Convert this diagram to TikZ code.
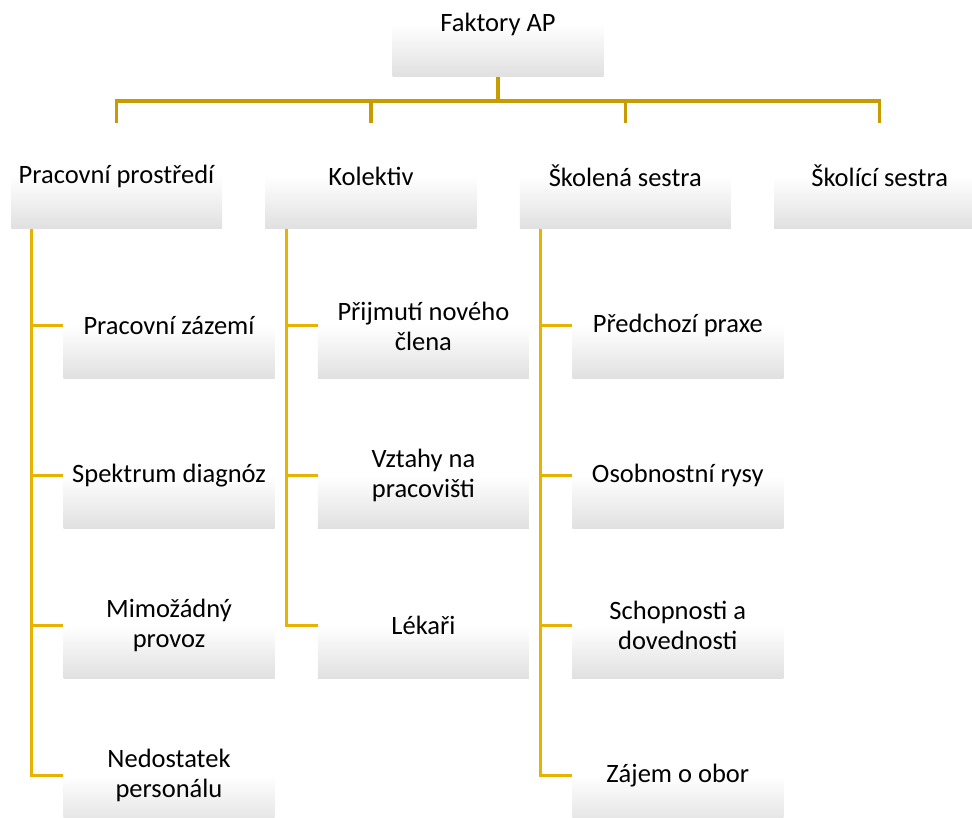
\documentclass[tikz,border=0pt]{standalone}
\usepackage{fontspec}
\setmainfont{Carlito}
\usetikzlibrary{positioning}
\definecolor{busgold}{RGB}{200,155,0}
\definecolor{branchgold}{RGB}{232,178,0}
\definecolor{boxgray}{RGB}{224,224,224}

\begin{document}
\begin{tikzpicture}[
  x=1pt, y=1pt,
  node distance=43.5pt and 43pt,
  box/.style={rectangle, minimum width=211pt, minimum height=106pt, inner sep=2pt, align=center,
    top color=white, bottom color=boxgray, middle color=white,
    font=\fontsize{26.5}{30}\selectfont},
  busline/.style={draw=busgold, line width=3.5pt},
  branchline/.style={draw=branchgold, line width=3pt}
]
\clip (0,0) rectangle (972,-818);
% top level
\node[box] (root) at (498,-24) {Faktory AP};
\node[box] (pp) at (116.5,-176) {Pracovní prostředí};
\node[box, right=of pp] (ko) {Kolektiv};
\node[box, right=of ko] (sk) {Školená sestra};
\node[box, right=of sk] (sn) {Školící sestra};
% Pracovní prostředí
\node[box, below=of pp, xshift=52.5pt] (pp1) {Pracovní zázemí};
\node[box, below=of pp1] (pp2) {Spektrum diagnóz};
\node[box, below=of pp2] (pp3) {Mimožádný\\provoz};
\node[box, below=of pp3] (pp4) {Nedostatek\\personálu};
% Kolektiv
\node[box, below=of ko, xshift=52.5pt] (ko1) {Přijmutí nového\\člena};
\node[box, below=of ko1] (ko2) {Vztahy na\\pracovišti};
\node[box, below=of ko2] (ko3) {Lékaři};
% Školená sestra
\node[box, below=of sk, xshift=52.5pt] (sk1) {Předchozí praxe};
\node[box, below=of sk1] (sk2) {Osobnostní rysy};
\node[box, below=of sk2] (sk3) {Schopnosti a\\dovednosti};
\node[box, below=of sk3] (sk4) {Zájem o obor};
% connectors
\coordinate (hub) at (498,-101);
\draw[busline] (root.south) -- (hub);
\draw[busline] (pp.north) |- (sn.north |- hub) -- (sn.north);
\foreach \n in {ko,sk}
  \draw[busline] (\n.north) -- (\n.north |- hub);
\coordinate (ppt) at ([xshift=21pt]pp.south west);
\coordinate (kot) at ([xshift=21pt]ko.south west);
\coordinate (skt) at ([xshift=21pt]sk.south west);
\draw[branchline] (ppt) |- (pp4.west);
\draw[branchline] (kot) |- (ko3.west);
\draw[branchline] (skt) |- (sk4.west);
\foreach \c in {pp1,pp2,pp3}
  \draw[branchline] (ppt |- \c.west) -- (\c.west);
\foreach \c in {ko1,ko2}
  \draw[branchline] (kot |- \c.west) -- (\c.west);
\foreach \c in {sk1,sk2,sk3}
  \draw[branchline] (skt |- \c.west) -- (\c.west);
\end{tikzpicture}
\end{document}
